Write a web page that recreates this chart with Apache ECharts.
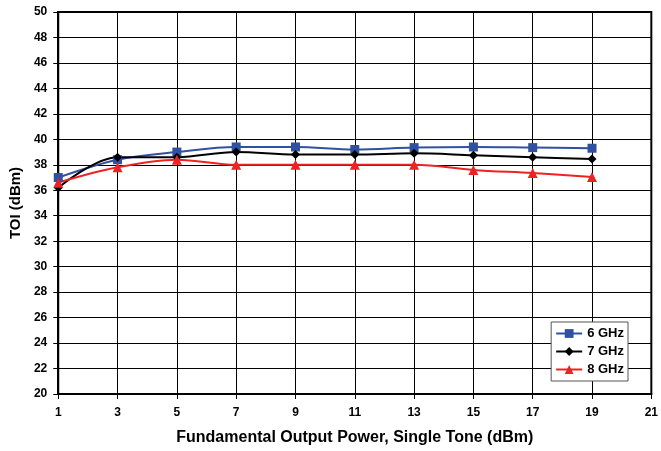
<!DOCTYPE html>
<html>
<head>
<meta charset="utf-8">
<script src="https://cdn.jsdelivr.net/npm/echarts@6/dist/echarts.min.js"></script>
<style>
html,body{margin:0;padding:0;background:#fff;}
#chart{width:661px;height:451px;}
</style>
</head>
<body>
<div id="chart"></div>
<script>
// x categories (Fundamental output power, dBm)
var powerLabels = ['1','3','5','7','9','11','13','15','17','19','21'];
var yTicks = {min: 20, max: 50, step: 2};

var toi6 = [37.0, 38.4, 39.0, 39.4, 39.4, 39.2, 39.35, 39.4, 39.35, 39.3];
var toi7 = [36.2, 38.6, 38.6, 39.0, 38.8, 38.8, 38.9, 38.75, 38.6, 38.45];
var toi8 = [36.6, 37.8, 38.4, 38.0, 38.0, 38.0, 38.0, 37.6, 37.35, 37.05];

var chartDom = document.getElementById('chart');
var myChart = echarts.init(chartDom, null, {renderer: 'canvas'});

var font = 'Liberation Sans, Arial, sans-serif';

function mkSeries(name, data, color, symbol, size) {
  return {
    name: name,
    type: 'line',
    data: data,
    smooth: 0.35,
    symbol: symbol,
    symbolSize: size,
    showSymbol: true,
    lineStyle: {color: color, width: 2},
    itemStyle: {color: color},
    animation: false
  };
}

var option = {
  backgroundColor: '#fff',
  animation: false,
  grid: {left: 58, right: 6, top: 12, bottom: 57, show: true, borderColor: '#000', borderWidth: 2},
  legend: {
    orient: 'vertical',
    right: 33,
    top: 322,
    backgroundColor: '#fff',
    borderColor: '#555',
    borderWidth: 1,
    padding: [5, 4, 5, 4],
    itemGap: 5,
    itemWidth: 26,
    itemHeight: 11,
    textStyle: {fontFamily: font, fontWeight: 'bold', fontSize: 13, color: '#000', padding: [1, 0, 0, 0]},
    data: ['6 GHz', '7 GHz', '8 GHz']
  },
  xAxis: {
    type: 'category',
    boundaryGap: false,
    data: powerLabels,
    name: 'Fundamental Output Power, Single Tone (dBm)',
    nameLocation: 'middle',
    nameGap: 36,
    nameTextStyle: {fontFamily: font, fontWeight: 'bold', fontSize: 16, color: '#000'},
    axisLine: {lineStyle: {color: '#000', width: 2}},
    axisTick: {show: true, length: 5, lineStyle: {color: '#000'}},
    axisLabel: {fontFamily: font, fontWeight: 'bold', fontSize: 12, color: '#000', margin: 13},
    splitLine: {show: true, lineStyle: {color: '#000', width: 1}}
  },
  yAxis: {
    type: 'value',
    min: yTicks.min,
    max: yTicks.max,
    interval: yTicks.step,
    name: 'TOI (dBm)',
    nameLocation: 'middle',
    nameGap: 25,
    nameTextStyle: {fontFamily: font, fontWeight: 'bold', fontSize: 15, color: '#000'},
    axisLine: {show: true, lineStyle: {color: '#000', width: 2}},
    axisTick: {show: true, length: 5, lineStyle: {color: '#000'}},
    axisLabel: {fontFamily: font, fontWeight: 'bold', fontSize: 12, color: '#000', margin: 11},
    splitLine: {show: true, lineStyle: {color: '#000', width: 1}}
  },
  series: [
    mkSeries('6 GHz', toi6, '#3050A0', 'rect', 9),
    mkSeries('7 GHz', toi7, '#000000', 'diamond', 9),
    mkSeries('8 GHz', toi8, '#EE2222', 'triangle', 10)
  ]
};

option && myChart.setOption(option);
</script>
</body>
</html>
